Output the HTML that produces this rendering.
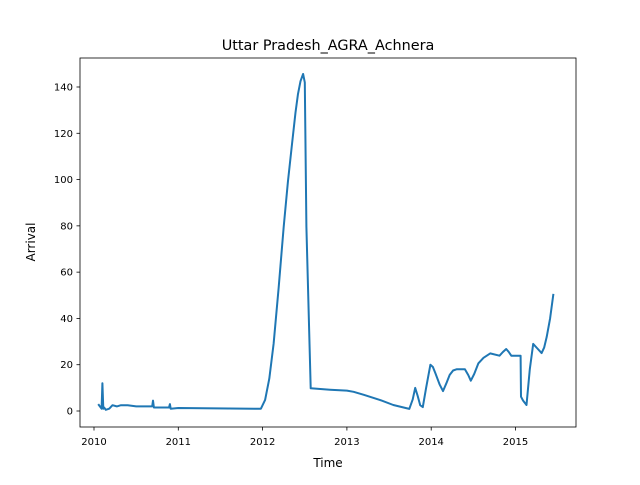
<!DOCTYPE html>
<html><head><meta charset="utf-8"><style>
body{margin:0;background:#fff;}
svg text{font-family:"DejaVu Sans","Liberation Sans",sans-serif;fill:#000;}
</style></head><body>
<svg id="chart" width="640" height="480" viewBox="0 0 640 480" xmlns="http://www.w3.org/2000/svg">
<rect width="640" height="480" fill="#fff"/>
<text x="328" y="50" font-size="14.4" text-anchor="middle">Uttar Pradesh_AGRA_Achnera</text>
<g id="xticks"></g><g id="yticks"></g>
<path id="series" fill="none" stroke="#1f77b4" stroke-width="2" stroke-linejoin="round"/>
<rect x="80" y="58" width="496" height="369" fill="none" stroke="#000" stroke-width="0.8"/>
<text x="328" y="467" font-size="12" text-anchor="middle">Time</text>
<text x="35" y="242" font-size="12" text-anchor="middle" transform="rotate(-90 35 242)">Arrival</text>
</svg>
<script>
const years=[2010.05,2010.09,2010.10,2010.11,2010.12,2010.14,2010.18,2010.22,2010.27,2010.32,2010.4,2010.5,2010.6,2010.69,2010.70,2010.71,2010.8,2010.89,2010.90,2010.91,2011.0,2011.3,2011.6,2011.9,2011.98,2012.03,2012.08,2012.13,2012.19,2012.25,2012.30,2012.35,2012.39,2012.42,2012.45,2012.48,2012.50,2012.52,2012.57,2012.8,2013.0,2013.08,2013.2,2013.39,2013.55,2013.63,2013.74,2013.78,2013.81,2013.84,2013.87,2013.90,2013.94,2013.99,2014.02,2014.05,2014.10,2014.14,2014.18,2014.22,2014.26,2014.30,2014.40,2014.44,2014.47,2014.51,2014.56,2014.62,2014.70,2014.81,2014.85,2014.89,2014.92,2014.95,2015.06,2015.065,2015.09,2015.13,2015.17,2015.21,2015.26,2015.31,2015.34,2015.37,2015.41,2015.45];
const values=[3,1,12,1,1.5,0.5,1,2.5,2,2.5,2.5,2,2,2,4.5,1.5,1.5,1.5,3,1,1.3,1.2,1.1,1,1,4.8,14,29,53,79.6,99,115.7,129,137,142.5,145.6,142,79.6,9.8,9.2,8.8,8.3,7,4.8,2.6,1.9,0.9,5,10,6.5,2.5,1.7,10,20,19,16.3,11.5,8.6,12,15.6,17.5,18,18,15.5,13.1,16,20.6,23,24.9,23.9,25.5,26.8,25.5,23.9,23.9,6.2,4.5,2.6,18,29,27,25,27.5,32,40,50.6];
const xTicks=[2010,2011,2012,2013,2014,2015];
const yTicks=[0,20,40,60,80,100,120,140];
const x=v=>94+(v-2010)*84.3;
const y=v=>411-v*2.3143;
const NS="http://www.w3.org/2000/svg";
let d="";years.forEach((t,i)=>{d+=(i?"L":"M")+x(t).toFixed(1)+","+y(values[i]).toFixed(1);});
document.getElementById('series').setAttribute('d',d);
const xg=document.getElementById('xticks');
xTicks.forEach(t=>{
 const l=document.createElementNS(NS,'line');
 
 
 l.setAttribute('x1',x(t));l.setAttribute('x2',x(t));l.setAttribute('y1',427);l.setAttribute('y2',430.5);l.setAttribute('stroke','#000');l.setAttribute('stroke-width','0.8');xg.appendChild(l);
 const tx=document.createElementNS(NS,'text');
 
 
 tx.setAttribute('x',x(t));tx.setAttribute('y',445);tx.setAttribute('font-size','10');tx.setAttribute('text-anchor','middle');tx.textContent=t;xg.appendChild(tx);
});
const yg=document.getElementById('yticks');
yTicks.forEach(t=>{
 const l=document.createElementNS(NS,'line');
 
 
 l.setAttribute('x1',76.5);l.setAttribute('x2',80);l.setAttribute('y1',y(t));l.setAttribute('y2',y(t));l.setAttribute('stroke','#000');l.setAttribute('stroke-width','0.8');yg.appendChild(l);
 const tx=document.createElementNS(NS,'text');
 
 
 tx.setAttribute('x',73);tx.setAttribute('y',y(t)+3.5);tx.setAttribute('font-size','10');tx.setAttribute('text-anchor','end');tx.textContent=t;yg.appendChild(tx);
});
</script>
</body></html>
